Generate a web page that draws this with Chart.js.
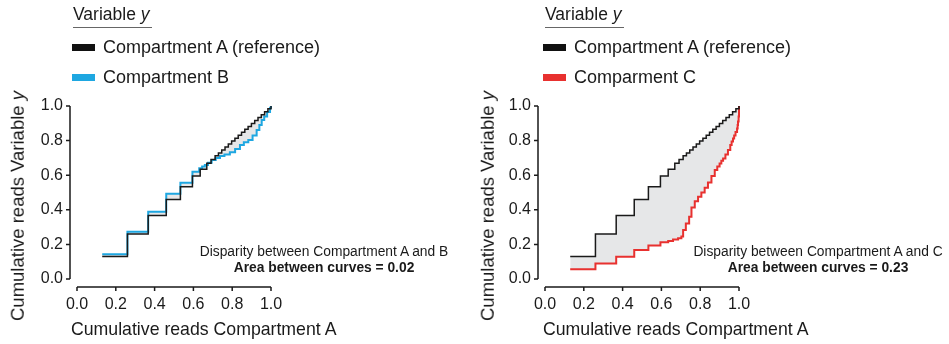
<!DOCTYPE html>
<html>
<head>
<meta charset="utf-8">
<script src="https://cdn.jsdelivr.net/npm/chart.js@4/dist/chart.umd.min.js"></script>
<style>
  html, body { margin: 0; padding: 0; background: #fff; }
  body { width: 949px; height: 344px; position: relative; overflow: hidden;
         font-family: "Liberation Sans", Arial, sans-serif; color: #1a1a1a; }
  canvas { position: absolute; top: 0; }
  .txt { position: absolute; white-space: nowrap; line-height: 1; }
  .legend-title { font-size: 17.5px; border-bottom: 1px solid #666; padding-bottom: 3px; padding-right: 2px; }
  .legend-row { font-size: 18px; }
  .swatch { position: absolute; width: 23px; height: 7px; }
  .note { font-size: 13.8px; transform: translate(-50%, -50%); text-align: center; }
  .xtitle { font-size: 17.7px; transform: translateY(-50%); }
  .ytitle { font-size: 18.5px; transform: translate(-50%, -50%) rotate(-90deg); }
</style>
</head>
<body>
<canvas id="chartB" width="470" height="344" style="left:0px"></canvas>
<canvas id="chartC" width="470" height="344" style="left:468px"></canvas>

<!-- left panel text -->
<div class="txt legend-title" style="left:73px; top:6px;">Variable <i>y</i></div>
<div class="swatch" style="left:72px; top:44px; background:#111;"></div>
<div class="txt legend-row" style="left:103px; top:38px;">Compartment A (reference)</div>
<div class="swatch" style="left:72px; top:74px; background:#1ea7e1;"></div>
<div class="txt legend-row" style="left:103px; top:68px;">Compartment B</div>
<div class="txt note" style="left:324px; top:252px;">Disparity between Compartment A and B</div>
<div class="txt note" style="left:324px; top:268px; font-weight:bold;">Area between curves = 0.02</div>
<div class="txt xtitle" style="left:71px; top:330px;">Cumulative reads Compartment A</div>
<div class="txt ytitle" style="left:18px; top:206px;">Cumulative reads Variable <i>y</i></div>

<!-- right panel text -->
<div class="txt legend-title" style="left:545px; top:6px;">Variable <i>y</i></div>
<div class="swatch" style="left:543px; top:44px; background:#111;"></div>
<div class="txt legend-row" style="left:574px; top:38px;">Compartment A (reference)</div>
<div class="swatch" style="left:543px; top:74px; background:#e8312f;"></div>
<div class="txt legend-row" style="left:574px; top:68px;">Comparment C</div>
<div class="txt note" style="left:818px; top:252px;">Disparity between Compartment A and C</div>
<div class="txt note" style="left:818px; top:268px; font-weight:bold;">Area between curves = 0.23</div>
<div class="txt xtitle" style="left:543px; top:330px;">Cumulative reads Compartment A</div>
<div class="txt ytitle" style="left:488px; top:206px;">Cumulative reads Variable <i>y</i></div>

<script>
// reference curve (Compartment A against itself)
const refX = [0.13, 0.26, 0.367, 0.46, 0.533, 0.595, 0.635, 0.669, 0.691, 0.712, 0.729, 0.746, 0.763,
              0.78, 0.797, 0.814, 0.831, 0.848, 0.865, 0.882, 0.899, 0.916, 0.933, 0.95, 0.967, 0.984, 1.0];
const refY = refX.slice();

// Compartment B
const compBX = [0.13, 0.26, 0.367, 0.46, 0.533, 0.595, 0.63, 0.645, 0.659, 0.675, 0.694, 0.715, 0.737,
                0.76, 0.788, 0.815, 0.84, 0.86, 0.883, 0.905, 0.926, 0.94, 0.952, 0.965, 0.98, 0.995, 1.0];
const compBY = [0.143, 0.273, 0.389, 0.493, 0.557, 0.62, 0.64, 0.65, 0.659, 0.672, 0.688, 0.70, 0.711,
                0.72, 0.733, 0.752, 0.775, 0.79, 0.803, 0.83, 0.861, 0.89, 0.919, 0.94, 0.965, 0.99, 1.0];

// Compartment C
const compCX = [0.13, 0.26, 0.367, 0.46, 0.533, 0.595, 0.635, 0.66, 0.686, 0.703, 0.712, 0.726, 0.743,
                0.755, 0.772, 0.789, 0.806, 0.823, 0.84, 0.858, 0.875, 0.888, 0.9, 0.909, 0.918, 0.93,
                0.943, 0.955, 0.962, 0.969, 0.975, 0.982, 0.99, 0.993, 0.995, 0.998, 1.0];
const compCY = [0.056, 0.09, 0.129, 0.168, 0.193, 0.212, 0.22, 0.228, 0.235, 0.245, 0.283, 0.321, 0.36,
                0.413, 0.45, 0.475, 0.5, 0.527, 0.558, 0.595, 0.63, 0.65, 0.668, 0.683, 0.697, 0.72,
                0.745, 0.775, 0.795, 0.812, 0.83, 0.85, 0.87, 0.89, 0.91, 0.94, 1.0];

const tickValues = [0, 0.2, 0.4, 0.6, 0.8, 1.0];

const INK = '#1a1a1a';
const FILL_GREY = '#e6e7e8';
const toPoints = (xs, ys) => xs.map((x, i) => ({ x, y: ys[i] }));

// Offset Prism-style axes, drawn from the scales
const offsetAxes = {
  id: 'offsetAxes',
  afterDraw(chart) {
    const { ctx, scales: { x, y } } = chart;
    const ax = x.getPixelForValue(0) - 7;
    const ay = y.getPixelForValue(0) + 8;
    ctx.save();
    ctx.strokeStyle = INK;
    ctx.lineWidth = 1.5;
    ctx.beginPath();
    ctx.moveTo(ax, y.getPixelForValue(0));
    ctx.lineTo(ax, y.getPixelForValue(1));
    tickValues.forEach(v => {
      const py = y.getPixelForValue(v);
      ctx.moveTo(ax, py);
      ctx.lineTo(ax - 4, py);
    });
    ctx.moveTo(x.getPixelForValue(0), ay);
    ctx.lineTo(x.getPixelForValue(1), ay);
    tickValues.forEach(v => {
      const px = x.getPixelForValue(v);
      ctx.moveTo(px, ay);
      ctx.lineTo(px, ay + 4);
    });
    ctx.stroke();
    ctx.restore();
  }
};

const axisOptions = (isX) => ({
  type: 'linear',
  min: 0,
  max: 1,
  grid: { display: false, drawTicks: false },
  border: { display: false },
  afterBuildTicks: (scale) => { scale.ticks = tickValues.map(value => ({ value })); },
  afterFit: (scale) => { if (isX) scale.height = 65; else scale.width = 77; },
  ticks: {
    padding: isX ? 16 : 14,
    color: INK,
    font: { family: '"Liberation Sans", Arial, sans-serif', size: 16 },
    maxRotation: 0,
    autoSkip: false,
    callback: (v) => Number(v).toFixed(1)
  }
});

const createComparisonChart = (canvasId, compX, compY, compColor) => {
  const ctx = document.getElementById(canvasId).getContext('2d');
  return new Chart(ctx, {
    type: 'line',
    data: {
      datasets: [
        {
          label: 'Compartment A (reference)',
          data: toPoints(refX, refY),
          borderColor: INK,
          borderWidth: 1.5,
          stepped: 'before',
          pointRadius: 0,
          fill: false,
          clip: 6,
          order: 0
        },
        {
          label: 'Compartment',
          data: toPoints(compX, compY),
          borderColor: compColor,
          borderWidth: 2,
          stepped: 'before',
          pointRadius: 0,
          fill: { target: 0 },
          backgroundColor: FILL_GREY,
          clip: 6,
          order: 1
        }
      ]
    },
    options: {
      responsive: false,
      animation: false,
      devicePixelRatio: 1,
      layout: { padding: { top: 106, right: 199, bottom: 0, left: 0 } },
      scales: { x: axisOptions(true), y: axisOptions(false) },
      plugins: { legend: { display: false }, tooltip: { enabled: false } }
    },
    plugins: [offsetAxes]
  });
};

createComparisonChart('chartB', compBX, compBY, '#1ea7e1');
createComparisonChart('chartC', compCX, compCY, '#e8312f');
</script>
</body>
</html>
